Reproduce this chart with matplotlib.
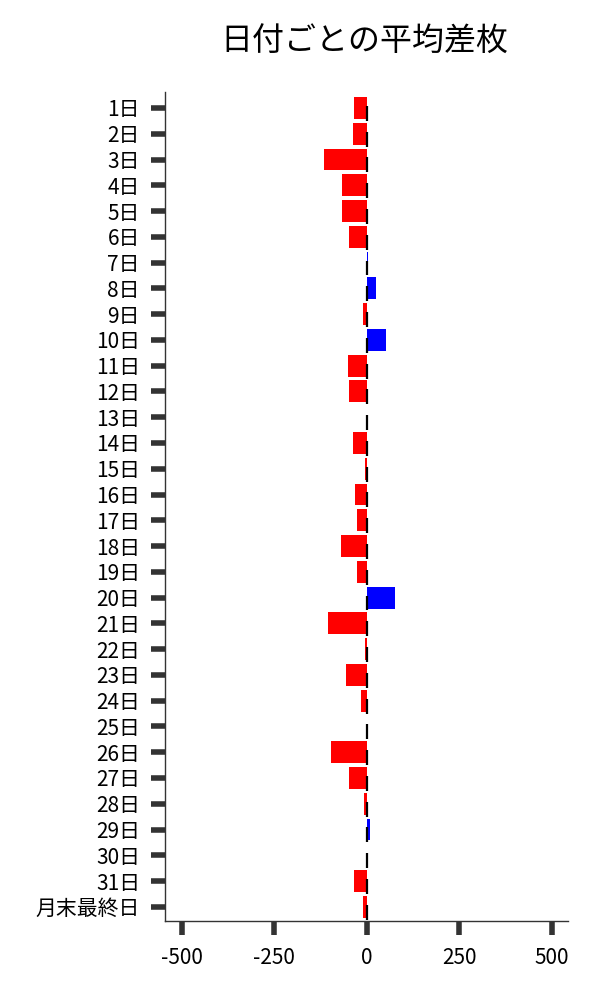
import numpy as np
import matplotlib
matplotlib.use("Agg")
import matplotlib.pyplot as plt

plt.rcParams['font.family'] = ['Noto Sans CJK JP', 'DejaVu Sans']

days = [f"{d}日" for d in range(1, 32)] + ["月末最終日"]
diff = [-35, -37, -116, -66, -66, -48, 4, 25, -10, 52,
        -50, -48, 1, -37, -5, -32, -26, -68, -26, 76,
        -105, -4, -57, -16, 1, -97, -48, -8, 8, 0,
        -35, -10]

y = np.arange(len(days))
colors = ['#0000ff' if v > 0 else '#ff0000' for v in diff]

fig = plt.figure(figsize=(6, 10), dpi=100)
ax = fig.add_axes([0.275, 0.079, 0.672, 0.829])
ax.barh(y, diff, height=0.85, color=colors)
# short black marks at zero on each row
ax.vlines(np.zeros(len(days)), y - 0.08, y + 0.5, color='black', linewidth=1.6)

ax.set_yticks(y)
ax.set_yticklabels(days, fontsize=15)
ax.set_ylim(31.55, -0.62)
ax.set_xlim(-545, 545)
ax.set_xticks([-500, -250, 0, 250, 500])
ax.set_xticklabels(['-500', '-250', '0', '250', '500'], fontsize=15)
ax.tick_params(axis='both', length=10, width=4, color='#333333')
ax.tick_params(axis='y', pad=8)
ax.tick_params(axis='x', pad=9)

for s in ['top', 'right']:
    ax.spines[s].set_visible(False)
for s in ['left', 'bottom']:
    ax.spines[s].set_color('#333333')
    ax.spines[s].set_linewidth(1)

fig.text(0.608, 0.958, '日付ごとの平均差枚', fontsize=23, ha='center', va='center')
plt.savefig("out.png", dpi=100)
